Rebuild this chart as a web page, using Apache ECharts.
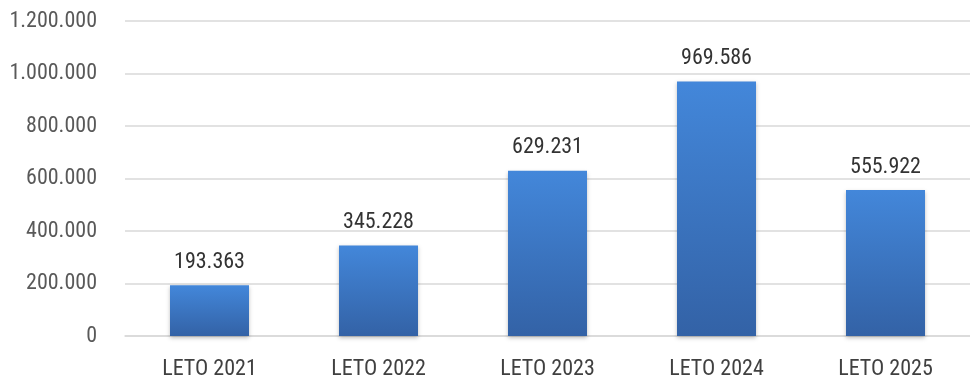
<!DOCTYPE html>
<html>
<head>
<meta charset="utf-8">
<script src="https://cdn.jsdelivr.net/npm/echarts@6/dist/echarts.min.js"></script>
<style>
html,body{margin:0;padding:0;background:#fff;}
#chart{width:970px;height:379px;}
</style>
</head>
<body>
<div id="chart"></div>
<script>
const categories = ['LETO 2021', 'LETO 2022', 'LETO 2023', 'LETO 2024', 'LETO 2025'];
const values = [193363, 345228, 629231, 969586, 555922];
const yTicks = { min: 0, max: 1200000, interval: 200000 };

function fmt(v) {
  return String(Math.round(v)).replace(/\B(?=(\d{3})+(?!\d))/g, '.');
}

const FONT = '"Roboto Condensed", "DejaVu Sans Condensed", sans-serif';
const chart = echarts.init(document.getElementById('chart'));
chart.setOption({
  animation: false,
  backgroundColor: '#ffffff',
  grid: { left: 125, right: 0, top: 21, bottom: 43, containLabel: false, outerBoundsMode: 'none' },
  xAxis: {
    type: 'category',
    data: categories,
    axisLine: { show: true, lineStyle: { color: '#d9d9d9', width: 1.5 } },
    axisTick: { show: false },
    axisLabel: { color: '#404040', fontFamily: FONT, fontSize: 22, margin: 22 }
  },
  yAxis: {
    type: 'value',
    min: yTicks.min, max: yTicks.max, interval: yTicks.interval,
    axisLine: { show: false },
    axisTick: { show: false },
    splitLine: { lineStyle: { color: '#d9d9d9', width: 1.5 } },
    axisLabel: { color: '#595959', fontFamily: FONT, fontSize: 22, margin: 28, formatter: fmt }
  },
  series: [{
    type: 'bar',
    data: values,
    barWidth: 79,
    itemStyle: {
      color: new echarts.graphic.LinearGradient(0, 0, 0, 1, [
        { offset: 0, color: '#4387da' },
        { offset: 1, color: '#3362a6' }
      ]),
      shadowColor: 'rgba(0,0,0,0.25)',
      shadowBlur: 4,
      shadowOffsetY: 2
    },
    label: {
      show: true, position: 'top', distance: 12,
      color: '#333333', fontFamily: FONT, fontSize: 22,
      formatter: p => fmt(p.value)
    }
  }]
});
</script>
</body>
</html>
